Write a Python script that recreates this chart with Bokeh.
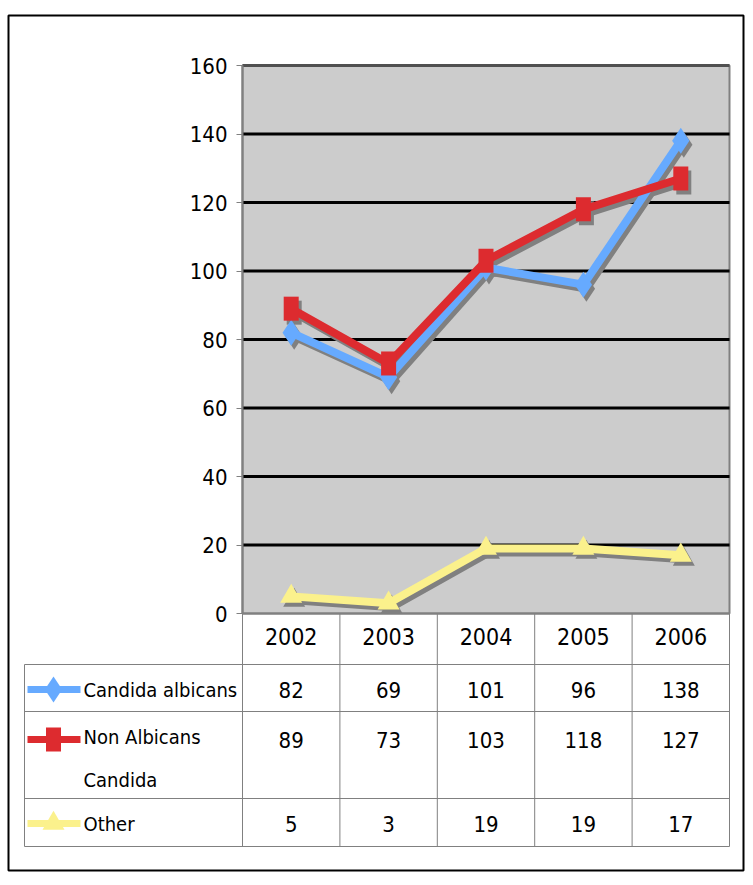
from bokeh.plotting import figure
from bokeh.models import ColumnDataSource, LinearAxis, FixedTicker, Range1d
from bokeh.transform import dodge
from bokeh.core.properties import value
from bokeh.embed import file_html
from bokeh.resources import INLINE

# ---------------- data ----------------
years = ["2002", "2003", "2004", "2005", "2006"]
series_names = ["Candida albicans", "Non Albicans\nCandida", "Other"]
candida_albicans = [82, 69, 101, 96, 138]
non_albicans_candida = [89, 73, 103, 118, 127]
other = [5, 3, 19, 19, 17]
y_ticks = [0, 20, 40, 60, 80, 100, 120, 140, 160]

# ---------------- layout constants (pixels) ----------------
W, H = 753, 885
BOX_L, BOX_R, BOX_T, BOX_B = 8, 743, 15, 870
PA_L, PA_R, PA_T, PA_B = 242, 729, 65, 613
TBL_L = 24
ROW_LINES = [664, 711, 798, 846]
ROW_SYM_Y = [689, 739, 823]
ROW_LABEL_Y = [689, 758, 823]
SYM_X0, SYM_X1, SYM_XM, LABEL_X = 27, 80, 53, 83

BLUE = "#66aaff"
RED = "#dd2b2f"
YELLOW = "#fbf18c"
SHADOW = "#808080"
GRIDGRAY = "#808080"
FONT = "DejaVu Sans Condensed"
FS = "22px"
LABEL_FS = "20px"

YMAX = y_ticks[-1]
NCAT = len(years)
XU = (PA_R - PA_L) / NCAT
YU = (PA_B - PA_T) / YMAX


def fx(px):
    return (px - PA_L) / XU


def fy(py):
    return (PA_B - py) / YU


xs = [i + 0.5 for i in range(NCAT)]

p = figure(width=W, height=H, output_backend="svg", toolbar_location=None,
           x_range=Range1d(fx(BOX_L), fx(BOX_R)),
           y_range=Range1d(fy(BOX_B), fy(BOX_T)),
           x_axis_location=None, y_axis_location=None,
           min_border_left=BOX_L, min_border_right=W - BOX_R,
           min_border_top=BOX_T, min_border_bottom=H - BOX_B,
           background_fill_color="white", border_fill_color="white",
           outline_line_color="black", outline_line_width=2)
p.xgrid.visible = False
p.ygrid.visible = False

# plot area
p.quad(left=0, right=NCAT, bottom=0, top=YMAX, fill_color="#cccccc",
       line_color=GRIDGRAY, line_width=2)
# gridlines
p.segment(x0=[0] * (len(y_ticks) - 2), x1=[NCAT] * (len(y_ticks) - 2),
          y0=y_ticks[1:-1], y1=y_ticks[1:-1], line_color="black", line_width=3)
p.segment(x0=[0], x1=[NCAT], y0=[YMAX], y1=[YMAX], line_color="#505050", line_width=3)

# axes
yaxis = LinearAxis(fixed_location=0, ticker=FixedTicker(ticks=y_ticks), bounds=(0, YMAX),
                   axis_line_color=GRIDGRAY, axis_line_width=2,
                   major_tick_out=6, major_tick_in=0, major_tick_line_color=GRIDGRAY,
                   minor_tick_line_color=None, major_label_standoff=9,
                   major_label_text_font=FONT, major_label_text_font_size=FS,
                   major_label_text_color="black")
p.add_layout(yaxis, "left")

xaxis = LinearAxis(fixed_location=0, ticker=FixedTicker(ticks=xs),
                   major_label_overrides={x: y for x, y in zip(xs, years)},
                   bounds=(0, NCAT), axis_line_color=GRIDGRAY, axis_line_width=2,
                   major_tick_out=0, major_tick_in=0, major_tick_line_color=None,
                   minor_tick_line_color=None, major_label_standoff=14,
                   major_label_text_font=FONT, major_label_text_font_size="23px",
                   major_label_text_color="black")
p.add_layout(xaxis, "below")

# series
src = ColumnDataSource(dict(x=xs, a=candida_albicans, n=non_albicans_candida, o=other))
dx, dy = 3 / XU, 4 / YU
for col in ["o", "a", "n"]:
    p.line(x=dodge("x", dx), y=dodge(col, -dy), source=src, line_color=SHADOW,
           line_width=8, line_join="miter")
p.scatter(x=dodge("x", dx), y=dodge("a", -dy), source=src, marker="diamond", size=26,
          fill_color=SHADOW, line_color=None)
p.rect(x=dodge("x", dx), y=dodge("n", -dy), width=15, height=24, width_units="screen",
       height_units="screen", source=src, fill_color=SHADOW, line_color=None)
p.scatter(x=dodge("x", dx), y=dodge("o", -dy), source=src, marker="triangle", size=22,
          fill_color=SHADOW, line_color=None)

p.line("x", "o", source=src, line_color=YELLOW, line_width=8, line_join="miter")
p.scatter("x", "o", source=src, marker="triangle", size=22, fill_color=YELLOW, line_color=None)
p.line("x", "a", source=src, line_color=BLUE, line_width=8, line_join="miter")
p.scatter("x", "a", source=src, marker="diamond", size=26, fill_color=BLUE, line_color=None)
p.line("x", "n", source=src, line_color=RED, line_width=8, line_join="miter")
p.rect("x", "n", width=15, height=24, width_units="screen", height_units="screen",
       source=src, fill_color=RED, line_color=None)

# ---------------- data table ----------------
# horizontal lines
p.segment(x0=[fx(TBL_L)] * len(ROW_LINES), x1=[NCAT] * len(ROW_LINES),
          y0=[fy(r) for r in ROW_LINES], y1=[fy(r) for r in ROW_LINES],
          line_color=GRIDGRAY, line_width=1)
# vertical lines
vx = list(range(NCAT + 1))
p.segment(x0=vx, x1=vx, y0=[0] * len(vx), y1=[fy(ROW_LINES[-1])] * len(vx),
          line_color=GRIDGRAY, line_width=1)
p.segment(x0=[fx(TBL_L)], x1=[fx(TBL_L)], y0=[fy(ROW_LINES[0])], y1=[fy(ROW_LINES[-1])],
          line_color=GRIDGRAY, line_width=1)

# legend keys
colors = [BLUE, RED, YELLOW]
sym_y = [fy(v) for v in ROW_SYM_Y]
p.segment(x0=[fx(SYM_X0)] * 3, x1=[fx(SYM_X1)] * 3, y0=sym_y, y1=sym_y,
          line_color=colors, line_width=7)
p.scatter([fx(SYM_XM)], [sym_y[0]], marker="diamond", size=26, fill_color=BLUE, line_color=None)
p.rect([fx(SYM_XM)], [sym_y[1]], width=15, height=24, width_units="screen",
       height_units="screen", fill_color=RED, line_color=None)
p.scatter([fx(SYM_XM)], [sym_y[2]], marker="triangle", size=22, fill_color=YELLOW, line_color=None)

p.text(x=[fx(LABEL_X)] * 3, y=[fy(v) for v in ROW_LABEL_Y], text=series_names,
       text_font=value(FONT), text_font_size=LABEL_FS, text_align="left",
       text_baseline="middle", text_line_height=1.8, text_color="black")

# cell values
all_series = [candida_albicans, non_albicans_candida, other]
cx, cy, ct = [], [], []
for vals, ry in zip(all_series, ROW_SYM_Y):
    for x, v in zip(xs, vals):
        cx.append(x)
        cy.append(fy(ry))
        ct.append(str(v))
p.text(x=cx, y=cy, text=ct, text_font=value(FONT), text_font_size=FS,
       text_align="center", text_baseline="middle", text_color="black")

open("out.html", "w").write(file_html(p, INLINE))
